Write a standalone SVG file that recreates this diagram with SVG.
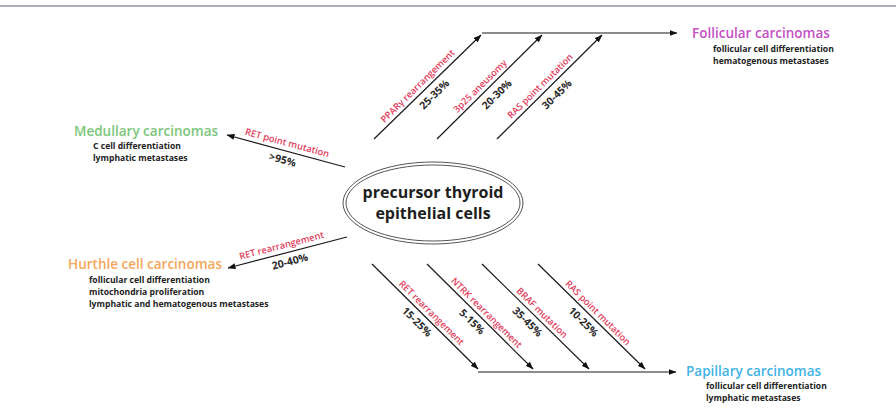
<svg xmlns="http://www.w3.org/2000/svg" width="896" height="420" viewBox="0 0 896 420">
<defs>
<marker id="ah" markerWidth="8" markerHeight="6" refX="7.5" refY="3" orient="auto" markerUnits="userSpaceOnUse">
<path d="M0,0 L8,3 L0,6 Z" fill="#111"/>
</marker>
<style>
.ln{stroke:#1a1a1a;stroke-width:1.2;fill:none}
.lbl{font-family:"Open Sans","Liberation Sans",sans-serif;font-size:9.3px;font-weight:600;fill:#e2405c;text-anchor:middle}
.pct{font-family:"Open Sans","Liberation Sans",sans-serif;font-size:10.5px;font-weight:700;fill:#2a2a2a;text-anchor:middle}
.ttl{font-family:"Open Sans","Liberation Sans",sans-serif;font-size:13.5px;font-weight:600}
.sub{font-family:"Open Sans","Liberation Sans",sans-serif;font-size:8.6px;font-weight:700;fill:#222}
.ctr{font-family:"Open Sans","Liberation Sans",sans-serif;font-size:16px;font-weight:700;fill:#1e1e1e;text-anchor:middle}
</style>
</defs>
<rect width="896" height="420" fill="#fff"/>
<line x1="0" y1="6" x2="896" y2="6" stroke="#8d929c" stroke-width="1.5"/>

<g id="center">
<ellipse cx="433" cy="203" rx="90" ry="41" fill="none" stroke="#555" stroke-width="1"/>
<ellipse cx="433" cy="203" rx="87" ry="38" fill="none" stroke="#555" stroke-width="1"/>
<text class="ctr" x="433" y="198">precursor thyroid</text>
<text class="ctr" x="433" y="219">epithelial cells</text>
</g>

<g id="follicular">
<text class="ttl" x="692" y="38" fill="#c44fc4">Follicular carcinomas</text>
<text class="sub" x="713" y="52">follicular cell differentiation</text>
<text class="sub" x="713" y="64">hematogenous metastases</text>
</g>
<g id="medullary">
<text class="ttl" x="74" y="136" fill="#7cc67a">Medullary carcinomas</text>
<text class="sub" x="93" y="149">C cell differentiation</text>
<text class="sub" x="93" y="161">lymphatic metastases</text>
</g>
<g id="hurthle">
<text class="ttl" x="68" y="269" fill="#f4a65a">Hurthle cell carcinomas</text>
<text class="sub" x="89" y="283">follicular cell differentiation</text>
<text class="sub" x="89" y="295">mitochondria proliferation</text>
<text class="sub" x="89" y="307">lymphatic and hematogenous metastases</text>
</g>
<g id="papillary">
<text class="ttl" x="686" y="376" fill="#3fb2e6">Papillary carcinomas</text>
<text class="sub" x="706" y="389">follicular cell differentiation</text>
<text class="sub" x="706" y="401">lymphatic metastases</text>
</g>

<g id="connectors">
<line class="ln" x1="345" y1="167" x2="227" y2="135" marker-end="url(#ah)"/>
<line class="ln" x1="347" y1="237" x2="228" y2="268" marker-end="url(#ah)"/>

<line class="ln" x1="374" y1="139" x2="481" y2="35" marker-end="url(#ah)"/>
<line class="ln" x1="437" y1="139" x2="542" y2="35" marker-end="url(#ah)"/>
<line class="ln" x1="497" y1="139" x2="602" y2="35" marker-end="url(#ah)"/>
<line class="ln" x1="482" y1="33" x2="677" y2="33" marker-end="url(#ah)"/>

<line class="ln" x1="372" y1="264" x2="478" y2="369" marker-end="url(#ah)"/>
<line class="ln" x1="427" y1="264" x2="533" y2="369" marker-end="url(#ah)"/>
<line class="ln" x1="482" y1="264" x2="589" y2="369" marker-end="url(#ah)"/>
<line class="ln" x1="538" y1="264" x2="645" y2="369" marker-end="url(#ah)"/>
<line class="ln" x1="478" y1="372" x2="676" y2="372" marker-end="url(#ah)"/>
</g>

<g id="labels">
<g transform="translate(286,151) rotate(15.2)">
<text class="lbl" x="-1" y="-5">RET point mutation</text>
<text class="pct" x="-1" y="13">&gt;95%</text>
</g>
<g transform="translate(287.5,252.5) rotate(-14.6)">
<text class="lbl" x="-4" y="-5">RET rearrangement</text>
<text class="pct" x="0" y="13">20-40%</text>
</g>

<g transform="translate(427,87) rotate(-44.5)">
<text class="lbl" x="-6" y="-4">PPARγ rearrangement</text>
<text class="pct" x="0" y="14">25-35%</text>
</g>
<g transform="translate(489.5,87) rotate(-44.5)">
<text class="lbl" x="-6" y="-4">3p25 aneusomy</text>
<text class="pct" x="0" y="14">20-30%</text>
</g>
<g transform="translate(549.5,87) rotate(-44.5)">
<text class="lbl" x="-6" y="-4">RAS point mutation</text>
<text class="pct" x="0" y="14">30-45%</text>
</g>

<g transform="translate(425,316.5) rotate(44.7)">
<text class="lbl" x="2" y="-4">RET rearrangement</text>
<text class="pct" x="-2" y="13">15-25%</text>
</g>
<g transform="translate(480,316.5) rotate(44.7)">
<text class="lbl" x="2" y="-4">NTRK rearrangement</text>
<text class="pct" x="-2" y="13">5-15%</text>
</g>
<g transform="translate(535.5,316.5) rotate(44.7)">
<text class="lbl" x="2" y="-4">BRAF mutation</text>
<text class="pct" x="-2" y="13">35-45%</text>
</g>
<g transform="translate(591.5,316.5) rotate(44.7)">
<text class="lbl" x="2" y="-4">RAS point mutation</text>
<text class="pct" x="-2" y="13">10-25%</text>
</g>
</g>
</svg>
